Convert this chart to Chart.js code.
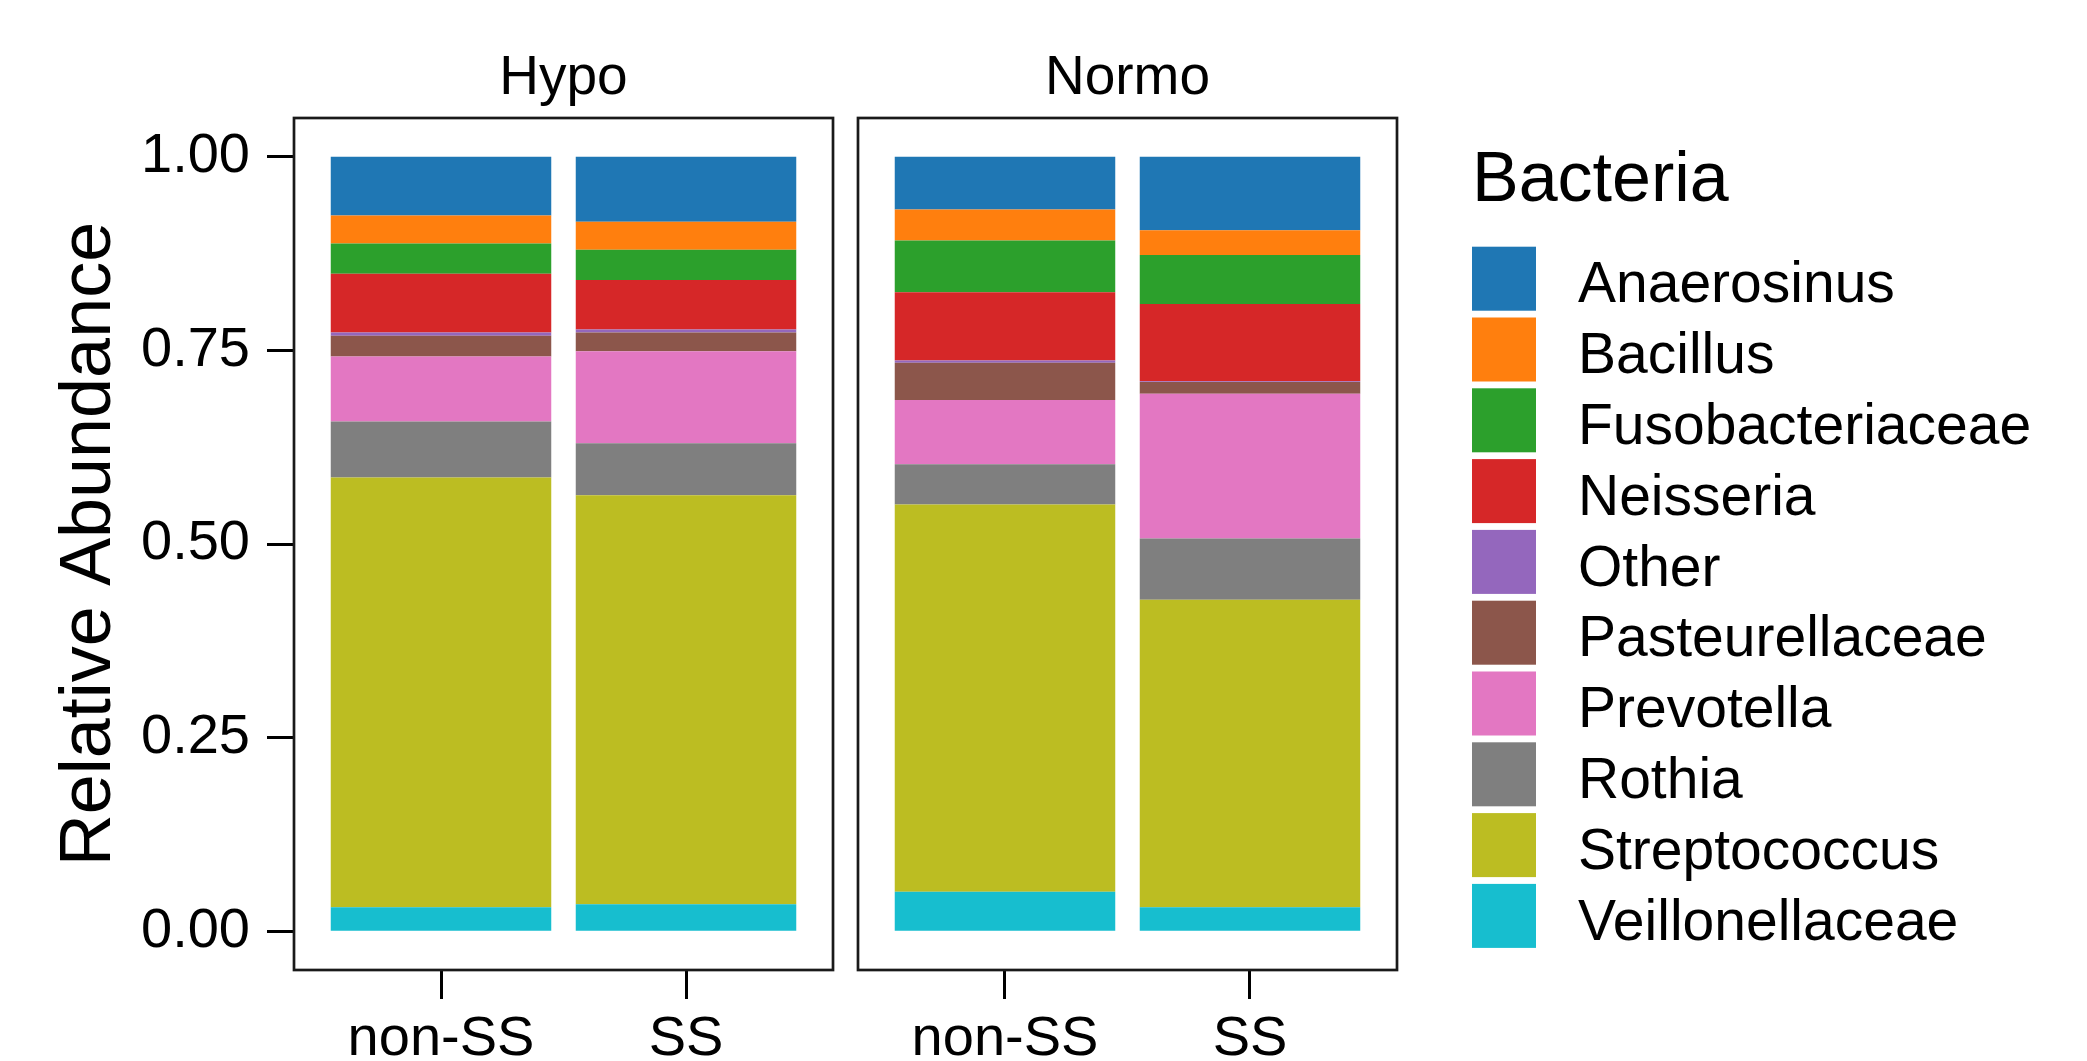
<!DOCTYPE html>
<html>
<head>
<meta charset="utf-8">
<title>Relative Abundance by Bacteria</title>
<script src="https://cdn.jsdelivr.net/npm/chart.js@4/dist/chart.umd.min.js"></script>
<style>
  html, body { margin: 0; padding: 0; background: #ffffff; }
  canvas { display: block; }
</style>
</head>
<body>
<canvas id="chart" width="2087" height="1061"></canvas>
<script>
// Facets, groups within each facet, and the taxa (legend order, top of stack first)
const facets = ['Hypo', 'Normo'];
const groups = ['non-SS', 'SS'];
const bacteria = ['Anaerosinus', 'Bacillus', 'Fusobacteriaceae', 'Neisseria', 'Other',
                  'Pasteurellaceae', 'Prevotella', 'Rothia', 'Streptococcus', 'Veillonellaceae'];
const palette = ['#1f77b4', '#ff7f0e', '#2ca02c', '#d62728', '#9467bd',
                 '#8c564b', '#e377c2', '#7f7f7f', '#bcbd22', '#17becf'];

// Relative abundance per sample: [Hypo non-SS, Hypo SS, Normo non-SS, Normo SS]
const anaerosinus      = [0.076, 0.084, 0.068, 0.095];
const bacillus         = [0.036, 0.036, 0.040, 0.032];
const fusobacteriaceae = [0.039, 0.039, 0.067, 0.063];
const neisseria        = [0.076, 0.064, 0.088, 0.100];
const other            = [0.004, 0.004, 0.003, 0.001];
const pasteurellaceae  = [0.027, 0.024, 0.048, 0.015];
const prevotella       = [0.084, 0.119, 0.083, 0.187];
const rothia           = [0.072, 0.067, 0.052, 0.079];
const streptococcus    = [0.555, 0.528, 0.500, 0.397];
const veillonellaceae  = [0.031, 0.035, 0.051, 0.031];

const abundance = [anaerosinus, bacillus, fusobacteriaceae, neisseria, other,
                   pasteurellaceae, prevotella, rothia, streptococcus, veillonellaceae];

const yTicks = [0, 0.25, 0.5, 0.75, 1];

// Each facet spans groups.length - 1 + 2 * EXPAND units on the x scale
const EXPAND = 0.6;
const FACET_GAP = 0.102;
const facetSpan = groups.length - 1 + 2 * EXPAND;
const facetStart = f => f * (facetSpan + FACET_GAP);
const xPositions = [];
facets.forEach((f, fi) => groups.forEach((g, gi) => xPositions.push(facetStart(fi) + gi)));
const xLabels = [];
facets.forEach(() => groups.forEach(g => xLabels.push(g)));

const FONT = '"Liberation Sans", Arial, Helvetica, sans-serif';
const INK = '#000000';

// Stack bottom-up: last taxon sits at the base of each bar
const datasets = bacteria.map((name, i) => ({
  label: name,
  backgroundColor: palette[i],
  borderWidth: 0,
  data: abundance[i].map((v, j) => ({ x: xPositions[j], y: v }))
})).reverse();

const facetFrames = {
  id: 'facetFrames',
  afterDraw(chart) {
    const { ctx, chartArea, scales } = chart;
    const x = scales.x;
    ctx.save();
    ctx.strokeStyle = '#1a1a1a';
    ctx.lineWidth = 2.7;
    facets.forEach((name, fi) => {
      const l = x.getPixelForValue(facetStart(fi) - EXPAND);
      const r = x.getPixelForValue(facetStart(fi) + facetSpan - EXPAND);
      ctx.strokeRect(l, chartArea.top, r - l, chartArea.bottom - chartArea.top);
      ctx.fillStyle = INK;
      ctx.font = '55px ' + FONT;
      ctx.textAlign = 'center';
      ctx.textBaseline = 'alphabetic';
      ctx.fillText(name, (l + r) / 2, chartArea.top - 24);
    });
    ctx.restore();
  }
};

const sideLegend = {
  id: 'sideLegend',
  afterDraw(chart) {
    const { ctx } = chart;
    const left = 1472, keySize = 64, pitch = 70.8, firstTop = 246.7;
    ctx.save();
    ctx.fillStyle = INK;
    ctx.font = '70px ' + FONT;
    ctx.textAlign = 'left';
    ctx.textBaseline = 'alphabetic';
    ctx.fillText('Bacteria', left, 201);
    ctx.font = '57px ' + FONT;
    ctx.textBaseline = 'middle';
    bacteria.forEach((name, i) => {
      const ds = chart.data.datasets.find(d => d.label === name);
      const top = firstTop + i * pitch;
      ctx.fillStyle = ds.backgroundColor;
      ctx.fillRect(left, top, keySize, keySize);
      ctx.fillStyle = INK;
      ctx.fillText(name, left + 106, top + keySize / 2 + 8);
    });
    ctx.restore();
  }
};

new Chart(document.getElementById('chart'), {
  type: 'bar',
  data: { datasets },
  options: {
    responsive: false,
    devicePixelRatio: 1,
    animation: false,
    layout: { padding: { left: 0, top: 118, right: 690, bottom: 0 } },
    datasets: { bar: { categoryPercentage: 0.9, barPercentage: 1.0 } },
    scales: {
      x: {
        type: 'linear',
        stacked: true,
        offset: false,
        min: -EXPAND,
        max: facetStart(facets.length - 1) + facetSpan - EXPAND,
        afterBuildTicks: s => { s.ticks = xPositions.map(v => ({ value: v })); },
        afterFit: s => { s.height = 91; },
        border: { display: false },
        grid: { display: true, offset: false, drawOnChartArea: false, drawTicks: true,
                tickLength: 29, tickWidth: 3, tickColor: INK },
        ticks: {
          autoSkip: false, maxRotation: 0, padding: 13, color: INK,
          font: { family: FONT, size: 56, lineHeight: 1 },
          callback: (v, i) => xLabels[i]
        }
      },
      y: {
        stacked: true,
        min: -0.05,
        max: 1.05,
        afterBuildTicks: s => { s.ticks = yTicks.map(v => ({ value: v })); },
        afterFit: s => { s.width = 294; },
        border: { display: false },
        grid: { display: true, drawOnChartArea: false, drawTicks: true,
                tickLength: 27, tickWidth: 3, tickColor: INK },
        ticks: {
          padding: 17, color: INK,
          font: { family: FONT, size: 56, lineHeight: 1 },
          callback: v => v.toFixed(2)
        },
        title: {
          display: true, text: 'Relative Abundance', color: INK,
          font: { family: FONT, size: 72, lineHeight: 1 },
          padding: { top: 54, bottom: 0 }
        }
      }
    },
    plugins: {
      legend: { display: false },
      tooltip: { enabled: false }
    }
  },
  plugins: [facetFrames, sideLegend]
});
</script>
</body>
</html>
